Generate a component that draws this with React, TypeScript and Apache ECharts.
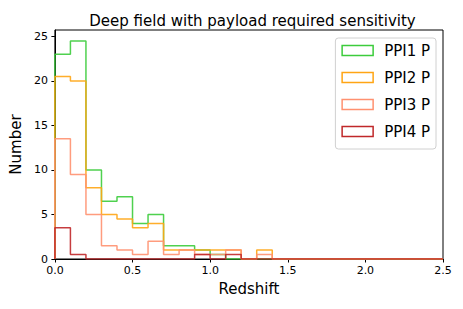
import React, { useEffect, useRef } from "react";
import * as echarts from "echarts";

const FONT = "DejaVu Sans";

const TITLE = "Deep field with payload required sensitivity";
const X_NAME = "Redshift";
const Y_NAME = "Number";

const SERIES_NAMES = ["PPI1 P", "PPI2 P", "PPI3 P", "PPI4 P"];
const SERIES_COLORS = ["#3ccc3c", "#ffa514", "#ff9170", "#c0282a"];

// histogram: 25 bins of width 0.1 from 0.0 to 2.5
const BIN_START = 0;
const BIN_WIDTH = 0.1;
const PPI1 = [23, 24.5, 10, 6.5, 7, 4, 5, 1.5, 1.5, 1, 0.5, 0, 0, 0, 0, 0, 0, 0, 0, 0, 0, 0, 0, 0, 0];
const PPI2 = [20.5, 20, 8, 5, 4.5, 3.5, 4, 1, 1, 1, 1, 1, 0, 1, 0, 0, 0, 0, 0, 0, 0, 0, 0, 0, 0];
const PPI3 = [13.5, 9.5, 5, 1.5, 1, 0.5, 2, 0.5, 1, 0.5, 0.5, 1, 0, 0.5, 0, 0, 0, 0, 0, 0, 0, 0, 0, 0, 0];
const PPI4 = [3.5, 0.5, 0, 0, 0, 0, 0, 0, 0, 0.5, 0, 0.5, 0, 0, 0, 0, 0, 0, 0, 0, 0, 0, 0, 0, 0];

const X_TICKS = [0, 0.5, 1, 1.5, 2, 2.5];
const Y_TICKS = [0, 5, 10, 15, 20, 25];
const Y_MAX = 25.725;

function stepPoints(counts: number[]): number[][] {
  const edge = (i: number) => +(BIN_START + i * BIN_WIDTH).toFixed(6);
  const pts: number[][] = [[edge(0), 0]];
  counts.forEach((c, i) => {
    pts.push([edge(i), c]);
    pts.push([edge(i + 1), c]);
  });
  pts.push([edge(counts.length), 0]);
  return pts;
}

export default function App() {
  const ref = useRef<HTMLDivElement>(null);
  useEffect(() => {
    if (!ref.current) return;
    const chart = echarts.init(ref.current, undefined, { renderer: "svg" });
    const all = [PPI1, PPI2, PPI3, PPI4];
    chart.setOption({
      animation: false,
      backgroundColor: "#ffffff",
      textStyle: { fontFamily: FONT },
      title: {
        text: TITLE,
        left: 247.5,
        top: 8,
        textAlign: "center",
        textStyle: { fontFamily: FONT, fontSize: 15, fontWeight: "normal", color: "#000" },
      },
      grid: {
        left: 52,
        top: 30,
        width: 391,
        height: 229,
        show: true,
        borderColor: "#000",
        borderWidth: 1,
        backgroundColor: "transparent",
      },
      legend: {
        orient: "vertical",
        right: 27,
        top: 38,
        icon: "rect",
        itemWidth: 31,
        itemHeight: 10,
        itemGap: 12,
        padding: [5, 6, 10, 6],
        borderColor: "#d0d0d0",
        borderWidth: 1,
        borderRadius: 3,
        backgroundColor: "rgba(255,255,255,0.8)",
        textStyle: { fontFamily: FONT, fontSize: 15, color: "#000", padding: [0, 0, 0, 6] },
        data: SERIES_NAMES.map((n, i) => ({
          name: n,
          itemStyle: { color: "transparent", borderColor: SERIES_COLORS[i], borderWidth: 1.5 },
        })),
      },
      xAxis: {
        type: "value",
        min: 0,
        max: 2.5,
        interval: 0.5,
        name: X_NAME,
        nameLocation: "middle",
        nameGap: 22,
        nameTextStyle: { fontFamily: FONT, fontSize: 15, color: "#000" },
        axisLine: { show: true, onZero: false, lineStyle: { color: "#000", width: 1 } },
        axisTick: { show: true, inside: false, length: 3.5, lineStyle: { color: "#000" } },
        axisLabel: {
          margin: 6,
          fontFamily: FONT,
          fontSize: 11,
          color: "#000",
          formatter: (v: number) => (X_TICKS.some((t) => Math.abs(t - v) < 1e-9) ? v.toFixed(1) : ""),
        },
        splitLine: { show: false },
      },
      yAxis: {
        type: "value",
        min: 0,
        max: Y_MAX,
        interval: 5,
        name: Y_NAME,
        nameLocation: "middle",
        nameGap: 27,
        nameTextStyle: { fontFamily: FONT, fontSize: 15, color: "#000" },
        axisLine: { show: true, onZero: false, lineStyle: { color: "#000", width: 1 } },
        axisTick: { show: true, inside: false, length: 3.5, lineStyle: { color: "#000" }, customValues: Y_TICKS },
        axisLabel: {
          margin: 7,
          fontFamily: FONT,
          fontSize: 11,
          color: "#000",
          customValues: Y_TICKS,
          formatter: (v: number) => (Y_TICKS.includes(v) ? String(v) : ""),
        },
        splitLine: { show: false },
      },
      series: all.map((counts, i) => ({
        name: SERIES_NAMES[i],
        type: "line",
        data: stepPoints(counts),
        showSymbol: false,
        symbol: "none",
        clip: true,
        itemStyle: { color: SERIES_COLORS[i] },
        lineStyle: { color: SERIES_COLORS[i], width: 1.5, opacity: 0.9 },
        z: 2 + i,
      })),
    });
    return () => chart.dispose();
  }, []);
  return (
    <div
      ref={ref}
      style={{ position: "absolute", left: 0, top: 0, width: 463, height: 309 }}
    />
  );
}
